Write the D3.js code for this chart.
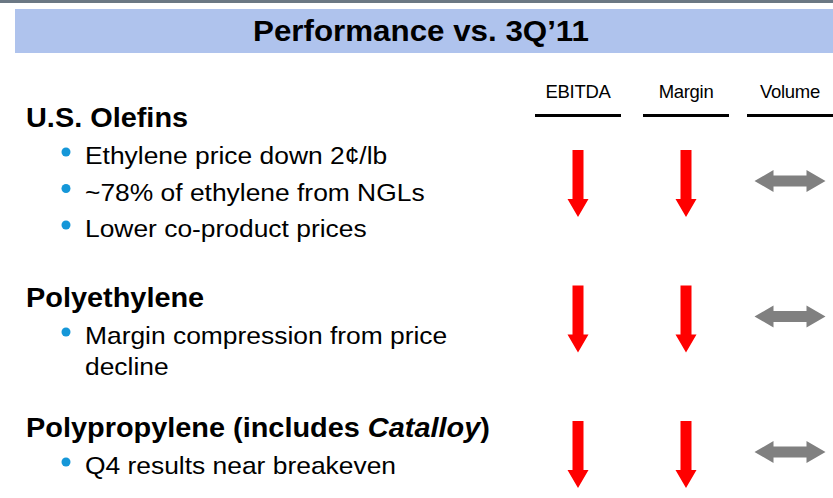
<!DOCTYPE html>
<html>
<head>
<meta charset="utf-8">
<script src="https://cdn.jsdelivr.net/npm/d3@7"></script>
<style>
  body { margin: 0; background: #fff; }
  svg { display: block; font-family: Arial, "Liberation Sans", sans-serif; }
</style>
</head>
<body>
<svg width="833" height="498"></svg>
<script>

// slide content
const title = 'Performance vs. 3Q\u201911'
const metrics = ['EBITDA', 'Margin', 'Volume']
const segments = ['U.S. Olefins', 'Polyethylene', 'Polypropylene (includes Catalloy)']
const italicWord = 'Catalloy'
const bullets = [
  ['Ethylene price down 2\u00a2/lb', '~78% of ethylene from NGLs', 'Lower co-product prices'],
  ['Margin compression from price decline'],
  ['Q4 results near breakeven']
]
// direction of change per segment
const ebitda = ['down', 'down', 'down']
const margin = ['down', 'down', 'down']
const volume = ['flat', 'flat', 'flat']

const headY = [127, 307, 437]

let svg = d3.select('svg'),
    width = +svg.attr('width'),
    height = +svg.attr('height')

// text that is slightly stretched sideways, like the slide
function stretched(g, x0, y0, sx) {
  return g.append('g')
    .attr('transform', `translate(${x0},${y0}) scale(${sx},1)`)
    .append('text')
}

// top strip + title band
svg.append('rect').attr('x', 0).attr('y', 0).attr('width', width).attr('height', 3).attr('fill', '#6b7884')
svg.append('rect').attr('x', 15).attr('y', 9).attr('width', width - 15).attr('height', 44).attr('fill', '#afc3ed')
stretched(svg, 421, 41, 1.08)
  .attr('text-anchor', 'middle')
  .attr('font-weight', 'bold')
  .attr('font-size', 29)
  .attr('fill', '#000')
  .text(title)

// column scale
let x = d3.scaleOrdinal().domain(metrics).range([578, 686, 790])
let colW = 86

let head = svg.append('g').attr('class', 'headers')
  .selectAll('g')
  .data(metrics)
  .enter().append('g')

head.append('text')
  .attr('x', d => x(d))
  .attr('y', 98)
  .attr('text-anchor', 'middle')
  .attr('font-size', 18.5)
  .attr('letter-spacing', -0.3)
  .text(d => d)

head.append('rect')
  .attr('x', d => x(d) - colW / 2)
  .attr('y', 114)
  .attr('width', colW)
  .attr('height', 3)
  .attr('fill', '#000')

// row scale for the arrows (top of arrow)
let y = d3.scalePoint().domain(segments).range([150, 421])

let cells = []
segments.forEach((s, i) => {
  cells.push({ seg: s, metric: 'EBITDA', dir: ebitda[i] })
  cells.push({ seg: s, metric: 'Margin', dir: margin[i] })
  cells.push({ seg: s, metric: 'Volume', dir: volume[i] })
})

function arrowPath(d) {
  let cx = x(d.metric), top = y(d.seg)
  if (d.dir === 'down') {
    let sw = 5.5, hw = 10.5, shaft = 49, len = 67
    return `M${cx - sw},${top}L${cx + sw},${top}L${cx + sw},${top + shaft}L${cx + hw},${top + shaft}` +
      `L${cx},${top + len}L${cx - hw},${top + shaft}L${cx - sw},${top + shaft}Z`
  }
  // flat: double-headed horizontal arrow
  let cy = top + 31, half = 35.5, hl = 19, sh = 5.5, hh = 11
  return `M${cx - half},${cy}L${cx - half + hl},${cy - hh}L${cx - half + hl},${cy - sh}` +
    `L${cx + half - hl},${cy - sh}L${cx + half - hl},${cy - hh}L${cx + half},${cy}` +
    `L${cx + half - hl},${cy + hh}L${cx + half - hl},${cy + sh}L${cx - half + hl},${cy + sh}` +
    `L${cx - half + hl},${cy + hh}Z`
}

svg.append('g').attr('class', 'arrows')
  .selectAll('path')
  .data(cells)
  .enter().append('path')
  .attr('d', arrowPath)
  .attr('fill', d => d.dir === 'down' ? '#ff0000' : '#808080')

// left text block
let textG = svg.append('g').attr('class', 'text')
let bsx = 1.1

segments.forEach((s, i) => {
  let h = stretched(textG, 26, headY[i], 1.07)
    .attr('font-weight', 'bold')
    .attr('font-size', 27)
  let k = s.indexOf(italicWord)
  if (k >= 0) {
    h.append('tspan').text(s.slice(0, k))
    h.append('tspan').attr('font-style', 'italic').text(italicWord)
    h.append('tspan').text(s.slice(k + italicWord.length))
  } else {
    h.text(s)
  }

  let by = headY[i] + 37
  bullets[i].forEach(b => {
    textG.append('circle')
      .attr('cx', 66).attr('cy', by - 12).attr('r', 4.5)
      .attr('fill', '#1597d8')
    let t = stretched(textG, 85, by, bsx)
      .attr('font-size', 24)
    // simple word wrap
    let words = b.split(' '), line = [], dy = 0
    let tspan = t.append('tspan').attr('x', 0).attr('y', 0)
    words.forEach(w => {
      line.push(w)
      tspan.text(line.join(' '))
      if (tspan.node().getComputedTextLength() * bsx > 380 && line.length > 1) {
        line.pop()
        tspan.text(line.join(' '))
        line = [w]
        dy += 31
        tspan = t.append('tspan').attr('x', 0).attr('y', dy).text(w)
      }
    })
    by += dy + 36.5
  })
})

</script>
</body>
</html>
